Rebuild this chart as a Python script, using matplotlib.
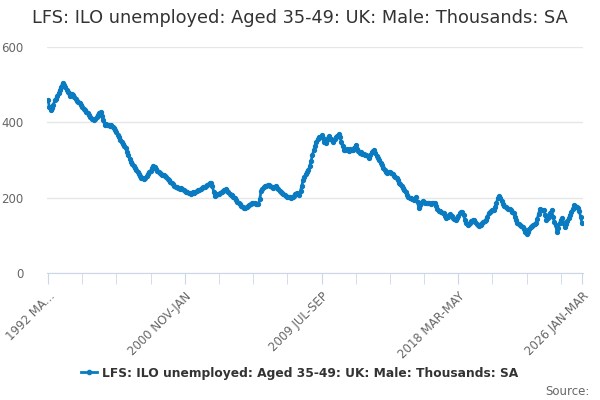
import matplotlib
matplotlib.use('Agg')
import matplotlib.pyplot as plt
from matplotlib.lines import Line2D

# 3-month rolling periods, 1992 MAR-MAY .. 2026 JAN-MAR (thousands, SA)
unemployed = [
    458, 440, 432, 438, 447, 458, 462, 470, 478, 486, 495, 505,
    500, 493, 487, 481, 477, 470, 475, 472, 466, 462, 457, 455,
    450, 447, 440, 436, 432, 428, 424, 420, 415, 410, 408, 406,
    410, 414, 419, 424, 428, 418, 405, 393, 396, 392, 394, 391,
    393, 388, 385, 380, 374, 366, 360, 353, 348, 342, 337, 332,
    322, 312, 303, 295, 290, 284, 278, 273, 268, 262, 258, 253,
    251, 249, 253, 258, 263, 268, 272, 278, 284, 282, 276, 270,
    267, 265, 262, 261, 259, 258, 256, 250, 246, 242, 238, 235,
    232, 229, 227, 225, 222, 226, 223, 220, 217, 216, 214, 213,
    212, 211, 214, 213, 216, 218, 221, 220, 223, 225, 228, 227,
    230, 233, 235, 238, 240, 230, 214, 204, 206, 209, 211, 213,
    216, 219, 221, 222, 219, 215, 211, 207, 207, 203, 198, 193,
    189, 186, 182, 178, 175, 172, 173, 176, 178, 181, 184, 186,
    187, 185, 184, 182, 183, 196, 218, 222, 227, 230, 232, 234,
    233, 230, 228, 225, 228, 231, 226, 222, 218, 215, 212, 209,
    207, 205, 203, 202, 201, 200, 202, 205, 211, 213, 209, 207,
    218, 232, 247, 255, 262, 268, 273, 284, 298, 313, 326, 338,
    348, 355, 360, 362, 366, 358, 349, 344, 352, 358, 364, 356,
    352, 349, 356, 361, 365, 368, 360, 348, 336, 327, 326, 328,
    327, 325, 328, 326, 327, 333, 340, 330, 323, 318, 320, 317,
    315, 314, 313, 310, 304, 312, 320, 325, 327, 318, 310, 304,
    300, 293, 287, 280, 274, 269, 266, 268, 269, 266, 262, 258,
    254, 251, 246, 240, 235, 230, 225, 221, 214, 208, 203, 200,
    198, 196, 195, 194, 203, 188, 172, 180, 187, 192, 189, 187,
    186, 185, 186, 184, 187, 186, 185, 178, 170, 165, 164, 162,
    160, 158, 152, 145, 149, 153, 156, 152, 147, 144, 141, 146,
    152, 158, 162, 163, 154, 142, 133, 127, 130, 134, 138, 140,
    141, 136, 131, 127, 125, 128, 132, 136, 138, 141, 150, 158,
    161, 164, 166, 167, 175, 186, 198, 204, 198, 190, 183, 178,
    176, 173, 171, 169, 166, 162, 158, 150, 140, 132, 129, 127,
    125, 123, 117, 110, 103, 110, 117, 123, 126, 128, 130, 132,
    143, 156, 169, 168, 166, 167, 155, 141, 147, 154, 160, 167,
    150, 136, 127, 110, 120, 132, 140, 145, 134, 123, 130, 138,
    146, 154, 162, 171, 180, 177, 174, 172, 165, 150, 134,
]

months = ['JAN', 'FEB', 'MAR', 'APR', 'MAY', 'JUN',
          'JUL', 'AUG', 'SEP', 'OCT', 'NOV', 'DEC']
start_year, start_month = 1992, 2
periods = []
for i in range(len(unemployed)):
    m = start_month + i
    periods.append('%d %s-%s' % (start_year + m // 12, months[m % 12], months[(m + 2) % 12]))

label_idx = [0, 104, 208, 312, len(periods) - 1]
y_ticks = [0, 200, 400, 600]
series_name = 'LFS: ILO unemployed: Aged 35-49: UK: Male: Thousands: SA'
blue = '#0a7bc1'

fig = plt.figure(figsize=(6, 4), dpi=100)
ax = fig.add_axes([0.078, 0.3175, 0.894, 0.565])

x = list(range(len(unemployed)))
ax.plot(x, unemployed, color=blue, lw=2, marker='o', ms=2.8, mec=blue, mfc=blue, zorder=3)

ax.set_ylim(0, 600)
ax.set_yticks(y_ticks)
ax.set_xlim(-1, len(unemployed))
ax.grid(axis='y', color='#e6e6e6', lw=1)
ax.set_axisbelow(True)
for s in ['top', 'right', 'left']:
    ax.spines[s].set_visible(False)
ax.spines['bottom'].set_color('#ccd6eb')
ax.tick_params(axis='y', length=0, pad=17, labelsize=8.5, labelcolor='#666666')

ax.set_xticks(list(range(0, len(unemployed), 26)) + [len(unemployed) - 1], minor=True)
ax.set_xticks(label_idx)
labels = [periods[i] for i in label_idx]
labels[0] = '1992 MA...'
ax.set_xticklabels(labels, rotation=45, ha='right', rotation_mode='anchor')
ax.tick_params(axis='x', which='both', length=8, color='#ccd6eb', labelsize=8.5,
               labelcolor='#666666', pad=4)

fig.text(0.5, 0.955, series_name, ha='center', va='center', fontsize=12.8, color='#333333')

handle = Line2D([], [], color=blue, lw=2, marker='o', ms=3)
fig.legend([handle], [series_name], loc='center', bbox_to_anchor=(0.5, 0.067),
           frameon=False, handlelength=1.3, handletextpad=0.4,
           prop={'size': 8.8, 'weight': 'bold'}, labelcolor='#333333')
fig.text(0.982, 0.022, 'Source:', ha='right', va='center', fontsize=8.5, color='#666666')

fig.savefig('out.png', dpi=100)
